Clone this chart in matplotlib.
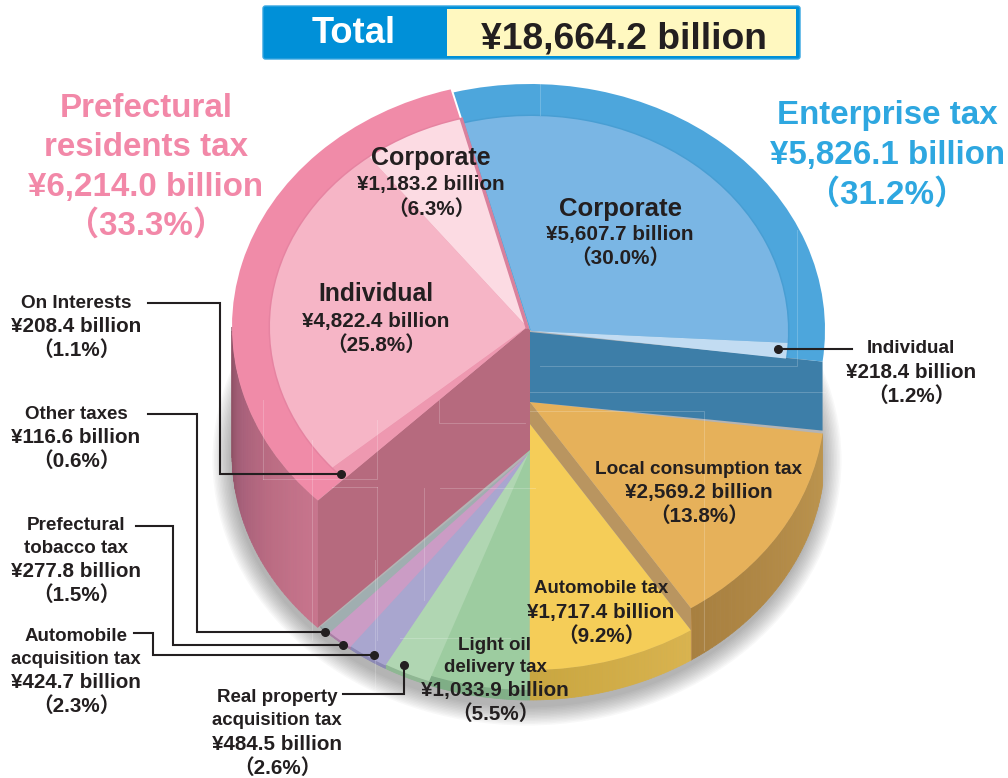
"""Prefectural tax revenue breakdown drawn as a split 3D-looking pie."""
import matplotlib
matplotlib.use("Agg")
import matplotlib.pyplot as plt
import matplotlib.colors as mc
import numpy as np
from matplotlib.patches import FancyBboxPatch, Wedge
from matplotlib.transforms import Affine2D

plt.rcParams["font.family"] = ["Liberation Sans", "Noto Sans CJK JP", "DejaVu Sans"]
plt.rcParams["font.weight"] = "bold"

# clockwise from the top, starting at the prefectural / enterprise cut
enterprise_names = ["Corporate", "Individual"]
enterprise_values = [5607.7, 218.4]
enterprise_pct = [30.0, 1.2]
lower_names = ["Local consumption tax", "Automobile tax", "Light oil delivery tax",
               "Real property acquisition tax", "Automobile acquisition tax",
               "Prefectural tobacco tax", "Other taxes"]
lower_values = [2569.2, 1717.4, 1033.9, 484.5, 424.7, 277.8, 116.6]
lower_pct = [13.8, 9.2, 5.5, 2.6, 2.3, 1.5, 0.6]
residents_names = ["On Interests", "Individual", "Corporate"]
residents_values = [208.4, 4822.4, 1183.2]
residents_pct = [1.1, 25.8, 6.3]
total_value = 18664.2
group_values = [6214.0, 5826.1]
group_pct = [33.3, 31.2]

INK = "#231f20"
PINK = "#f288a8"
BLUE = "#2ea7e0"
START = -15.0
RX, RY = 295, 246
BASE_Y = 454

fig = plt.figure(figsize=(10.08, 7.78), dpi=100)
ax = fig.add_axes([0, 0, 1, 1])
ax.set_xlim(0, 1008)
ax.set_ylim(778, 0)
ax.axis("off")


def money(v):
    return f"¥{v:,.1f} billion"


def pct(p):
    return f"（{p:.1f}%）"


def ell(c, cx, cy, rx=RX, ry=RY):
    a = np.radians(c)
    return cx + rx * np.sin(a), cy - ry * np.cos(a)


def wedge(c1, c2, cx, cy, color, rx=RX, ry=RY, z=2, **kw):
    w = Wedge((0, 0), 1, c1 - 90, c2 - 90, fc=color, ec="none", zorder=z, **kw)
    w.set_transform(Affine2D().scale(rx, ry).translate(cx, cy) + ax.transData)
    ax.add_patch(w)


def side(c1, c2, cx, top_y, colors, z=1):
    # rim between the top face and the base ellipse, shaded along its length
    cmap = mc.LinearSegmentedColormap.from_list("rim", colors)
    steps = np.linspace(c1, c2, 50)
    for i in range(len(steps) - 1):
        xa, ya = ell(steps[i], cx, top_y)
        xb, yb = ell(steps[i + 1], cx, top_y)
        xc, yc = ell(steps[i + 1], cx, BASE_Y)
        xd, yd = ell(steps[i], cx, BASE_Y)
        col = cmap(i / (len(steps) - 2))
        ax.fill([xa, xb, xc, xd], [ya, yb, yc, yd], fc=col, ec=col, lw=0.5, zorder=z)


def block(x, rows, color=INK, dy=1.5):
    for y, s, size in rows:
        ax.text(x, y + dy, s, ha="center", va="center", fontsize=size, color=color, zorder=8)


def leader(xs, ys):
    ax.plot(xs, ys, color=INK, lw=1.5, zorder=7, solid_joinstyle="miter")
    ax.plot(xs[-1], ys[-1], "o", color=INK, ms=5.5, zorder=7)


# slice boundaries in degrees from the data
deg = 360.0 / sum(enterprise_values + lower_values + residents_values)
ent_c = START + np.cumsum([0] + enterprise_values) * deg
low_c = ent_c[-1] + np.cumsum([0] + lower_values) * deg
res_c = low_c[-1] + np.cumsum([0] + residents_values) * deg

# soft shadow behind the base
for grow in np.arange(1.5, 21, 1.5):
    wedge(0, 360, 527, BASE_Y + 6, "#333333", rx=RX + grow, ry=RY + grow, z=0, alpha=0.03)

# lower slices: rims first, each face sits at its own height
lower_top_y = [402, 424, 444, 450, 451, 452, 453]
lower_face = ["#e6b15a", "#f5cd58", "#9dcca0", "#b0d6b2", "#a9a6cf", "#cb9cc5", "#a0aeb0"]
lower_rim = [["#bd954e", "#a88040"], ["#d9b34f", "#c9a640"], ["#82b088", "#7fae86"],
             ["#8fb893", "#8fb893"], ["#8c89b5", "#8c89b5"], ["#a97ea5", "#a97ea5"],
             ["#8f9b9d", "#8f9b9d"]]
for i in range(len(lower_values)):
    side(low_c[i], low_c[i + 1], 530, lower_top_y[i], lower_rim[i])

# step wall between local consumption tax and automobile tax
xe, ye = ell(low_c[1], 530, lower_top_y[0])
xf, yf = ell(low_c[1], 530, BASE_Y)
ax.fill([530, xe, xf, 530], [lower_top_y[0], ye, ye + 22, lower_top_y[1]], fc="#b99560", zorder=2.2)
ax.fill([xe, xf + 1, xf + 1, xe], [ye, ye + 22, yf, yf], fc="#bd8f52", zorder=1.5)

for i in range(2, len(lower_values)):
    wedge(low_c[i], low_c[i + 1], 530, lower_top_y[i], lower_face[i], z=2)
wedge(low_c[0], low_c[1], 530, lower_top_y[0], lower_face[0], z=2.4)
wedge(low_c[1], low_c[2], 530, lower_top_y[1], lower_face[1], z=2.1)

# prefectural residents tax block
side(res_c[0], 270, 527, 327, ["#c8758d", "#bb6c83", "#a8607a", "#8f5266"], z=1)
xt, yt = ell(res_c[0], 527, 327)
xb, yb = ell(res_c[0], 527, BASE_Y)
ax.fill([527, xt, xb, 530, 530], [327, yt, yb, BASE_Y - 4, 330], fc="#b66a7e", zorder=3)
wedge(res_c[0], res_c[-1], 527, 327, "#f08ba8", z=4)
wedge(res_c[0], res_c[-1], 527, 327, "#a05070", rx=258.5, ry=216.5, z=4.1, alpha=0.12)
res_colors = ["#ee98b0", "#f6b5c6", "#fcdbe3"]
for i in range(3):
    wedge(res_c[i], res_c[i + 1], 527, 327, res_colors[i], rx=257, ry=215, z=4.2)
xs, ys = ell(res_c[-1], 527, 327, 257, 215)
ax.plot([527, xs + 1], [327, ys], color="#d9809c", lw=2.5, zorder=4.3)

# enterprise tax block
xa, ya = ell(ent_c[-1], 530, 330)
ax.fill([530, xa, xa, 530], [332, ya, ya + 69, 402], fc="#3d7ea8", zorder=3)
wedge(ent_c[0], ent_c[-1], 530, 330, "#4da6dc", z=4)
wedge(ent_c[0], ent_c[-1], 531, 331, "#2a6a98", rx=258.5, ry=216.5, z=4.1, alpha=0.12)
ent_colors = ["#7ab6e4", "#c2dcf2"]
for i in range(2):
    wedge(ent_c[i], ent_c[i + 1], 531, 331, ent_colors[i], rx=257, ry=215, z=4.2)

# faint clipping hairlines left over in the artwork
hairlines = [
    ([312, 312], [440, 640]), ([263, 377, 377], [479, 479, 420]), ([377, 377], [487, 640]),
    ([332, 377], [487, 487]), ([424, 424], [488, 600]), ([439, 439, 525], [400, 423, 423]),
    ([440, 535], [488, 488]), ([263, 263], [400, 479]), ([530, 704, 704], [411, 411, 650]),
    ([540, 797, 797], [366, 366, 230]), ([530, 825], [392, 392]), ([540, 540], [84, 115]),
    ([375, 375], [560, 700]), ([400, 510], [638, 638]),
]
for xs_h, ys_h in hairlines:
    ax.plot(xs_h, ys_h, color="white", lw=0.7, alpha=0.2, zorder=5)

# banner
ax.add_patch(FancyBboxPatch((263, 6), 537, 53, boxstyle="round,pad=0,rounding_size=2.5",
                            fc="#0090d8", ec="#35a5e0", lw=1, zorder=5))
ax.fill([447, 796, 796, 447], [9, 9, 56, 56], fc="#fff8c0", zorder=5.1)
ax.text(354, 33.5, "Total", ha="center", va="center", fontsize=26.2, color="white", zorder=8)
ax.text(624, 38.5, money(total_value), ha="center", va="center", fontsize=26.8, color=INK, zorder=8)

# group headings
block(146, [(106, "Prefectural", 23.9), (145, "residents tax", 23.9),
            (185, money(group_values[0]), 23.9), (224, pct(group_pct[0]), 23.9)], PINK, dy=2)
block(887, [(113, "Enterprise tax", 23.9), (153, money(group_values[1]), 23.9),
            (193, pct(group_pct[1]), 23.9)], BLUE, dy=2)

# labels on the slices
block(431, [(156, residents_names[2], 18), (183, money(residents_values[2]), 14.9), (208, pct(residents_pct[2]), 14.9)])
block(620, [(207, enterprise_names[0], 18.5), (233, money(enterprise_values[0]), 14.9), (257, pct(enterprise_pct[0]), 14.9)])
block(376, [(292, residents_names[1], 17.8), (320, money(residents_values[1]), 14.9), (344, pct(residents_pct[1]), 14.9)])
block(699, [(468, lower_names[0], 13.7), (491, money(lower_values[0]), 14.9), (515, pct(lower_pct[0]), 14.9)])
block(601, [(587, lower_names[1], 13.4), (611, money(lower_values[1]), 14.9), (635, pct(lower_pct[1]), 14.9)])
block(495, [(644, "Light oil", 13.5), (666, "delivery tax", 13.5), (689, money(lower_values[2]), 14.9), (713, pct(lower_pct[2]), 14.9)])

# labels with leaders
block(76, [(302, residents_names[0], 13.7), (325, money(residents_values[0]), 14.9), (349, pct(residents_pct[0]), 14.9)])
block(76, [(413, lower_names[6], 13.5), (436, money(lower_values[6]), 14.9), (460, pct(lower_pct[6]), 14.9)])
block(76, [(524, "Prefectural", 13.6), (547, "tobacco tax", 13.5), (570, money(lower_values[5]), 14.9), (594, pct(lower_pct[5]), 14.9)])
block(76, [(635, "Automobile", 13.5), (658, "acquisition tax", 13.4), (681, money(lower_values[4]), 14.9), (705, pct(lower_pct[4]), 14.9)])
block(277, [(696, "Real property", 13.5), (719, "acquisition tax", 13.4), (743, money(lower_values[3]), 14.9), (767, pct(lower_pct[3]), 14.9)])
block(911, [(347, enterprise_names[1], 13.6), (371, money(enterprise_values[1]), 14.9), (395, pct(enterprise_pct[1]), 14.9)])

leader([148, 220, 220, 341], [303, 303, 474, 474])
leader([148, 197, 197, 325], [414, 414, 632, 632])
leader([136, 173, 173, 343], [526, 526, 645, 645])
leader([134, 153, 153, 374], [633, 633, 655, 655])
leader([343, 404, 404], [694, 694, 665])
leader([852, 778], [349, 349])

fig.savefig("out.png", dpi=100)
